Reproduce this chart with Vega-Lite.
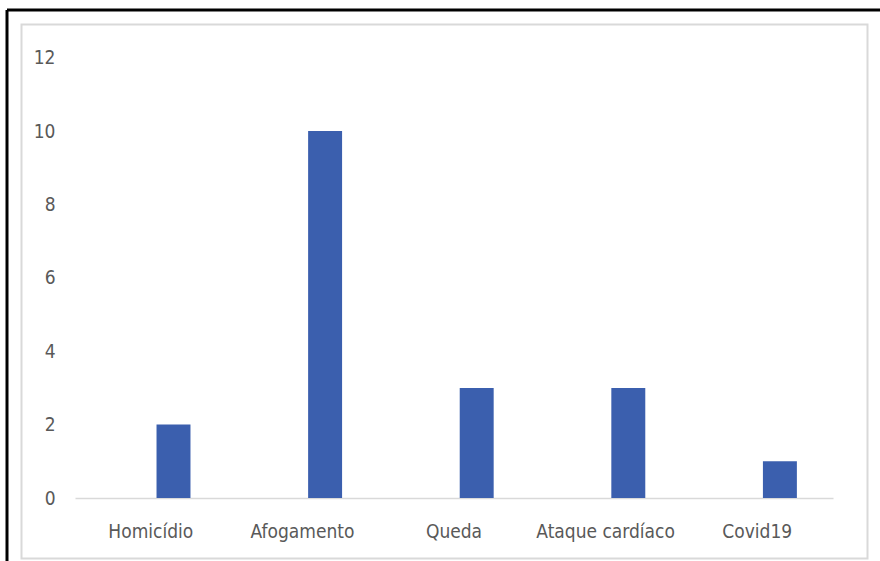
{
  "$schema": "https://vega.github.io/schema/vega-lite/v6.json",
  "autosize": {"type": "none"},
  "padding": {"left": 21.5, "top": 24.5, "right": 12.5, "bottom": 2.5},
  "width": 846,
  "height": 534,
  "background": "white",
  "view": {"stroke": "#d9d9d9", "strokeWidth": 2, "fill": "white"},
  "data": {
    "values": [
      {"causa": "Homicídio", "casos": 2},
      {"causa": "Afogamento", "casos": 10},
      {"causa": "Queda", "casos": 3},
      {"causa": "Ataque cardíaco", "casos": 3},
      {"causa": "Covid19", "casos": 1}
    ]
  },
  "layer": [
    {
      "mark": {"type": "bar", "color": "#3b5fae", "xOffset": 22.7},
      "encoding": {
        "x": {
          "field": "causa",
          "type": "nominal",
          "sort": null,
          "scale": {"range": [53.5, 811.5], "paddingInner": 0.776, "paddingOuter": 0.388},
          "axis": {
            "title": null,
            "orient": "bottom",
            "offset": -60.5,
            "labelAngle": 0,
            "ticks": false,
            "domain": true,
            "domainColor": "#d9d9d9",
            "domainWidth": 1.5,
            "labelPadding": 24,
            "labelFont": "Liberation Sans Narrow, DejaVu Sans Condensed, Lato, sans-serif",
            "labelFontSize": 19,
            "labelColor": "#595959"
          }
        },
        "y": {
          "field": "casos",
          "type": "quantitative",
          "scale": {"domain": [0, 12], "nice": false, "range": [473.5, 33.1]},
          "axis": {
            "title": null,
            "values": [0, 2, 4, 6, 8, 10, 12],
            "offset": -53.5,
            "domain": false,
            "ticks": false,
            "grid": false,
            "labelPadding": 20,
            "labelFont": "Liberation Sans Narrow, DejaVu Sans Condensed, Lato, sans-serif",
            "labelFontSize": 19,
            "labelColor": "#595959"
          }
        }
      }
    },
    {
      "description": "Outer black frame, drawn as the domain lines of a second pair of axes",
      "mark": {"type": "tick", "opacity": 0},
      "encoding": {
        "x": {
          "field": "causa",
          "type": "nominal",
          "sort": null,
          "scale": {"range": [-15, 870]},
          "axis": {
            "title": null,
            "orient": "top",
            "offset": 15,
            "labels": false,
            "ticks": false,
            "grid": false,
            "domainColor": "black",
            "domainWidth": 3
          }
        },
        "y": {
          "field": "casos",
          "type": "quantitative",
          "scale": {"range": [550, -15]},
          "axis": {
            "title": null,
            "orient": "left",
            "offset": 15,
            "labels": false,
            "ticks": false,
            "grid": false,
            "domainColor": "black",
            "domainWidth": 3
          }
        }
      }
    }
  ],
  "resolve": {
    "scale": {"x": "independent", "y": "independent"},
    "axis": {"x": "independent", "y": "independent"}
  }
}
